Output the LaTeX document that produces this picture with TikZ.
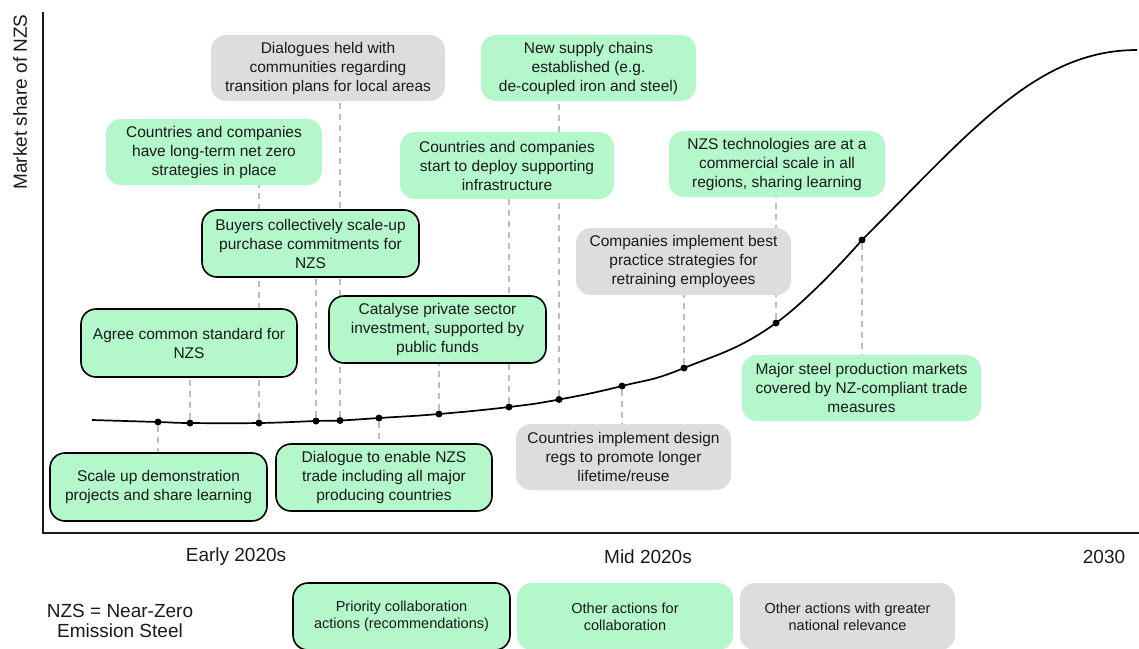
\documentclass[tikz,border=0pt]{standalone}
\usepackage{fontspec}
\setmainfont{Liberation Sans}
\usetikzlibrary{backgrounds}
\definecolor{boxgreen}{RGB}{179,247,203}
\definecolor{boxgray}{RGB}{221,221,221}
\definecolor{dashgray}{RGB}{190,190,190}
\definecolor{txt}{RGB}{26,26,26}
\tikzset{
  box/.style={rounded corners=15pt, align=center, inner sep=0pt, text=txt,
    font=\fontsize{15.5}{19}\selectfont, minimum height=66pt},
  greenbox/.style={box, fill=boxgreen},
  graybox/.style={box, fill=boxgray},
  prio/.style={greenbox, draw=black, line width=1.6pt},
  legendtxt/.style={font=\fontsize{14.5}{17}\selectfont},
  dot/.style={circle, fill=black, inner sep=0pt, minimum size=7pt},
  dashline/.style={draw=dashgray, line width=1.5pt, dash pattern=on 6pt off 5pt},
  axisline/.style={draw=black!90, line width=2pt},
  axislabel/.style={text=txt, font=\fontsize{19}{22}\selectfont, inner sep=0pt},
  curveline/.style={line width=1.7pt, black},
}
\begin{document}
\begin{tikzpicture}[x=1pt,y=-1pt]
\useasboundingbox (0,0) rectangle (1139,648);

% axes
\draw[axisline] (43,12) -- (43,533) -- (1139,533);
\node[axislabel, rotate=90] (ylab) at (20,102) {Market share of NZS};
\node[axislabel] (early) at (236,557) {Early 2020s};
\node[axislabel] (mid) at (648,557) {Mid 2020s};
\node[axislabel] (y2030) at (1104,557) {2030};

% dots
\node[dot] (d1) at (158,422) {};
\node[dot] (d2) at (190,423) {};
\node[dot] (d3) at (259,423) {};
\node[dot] (d4) at (316,421) {};
\node[dot] (d5) at (340,420.5) {};
\node[dot] (d6) at (379,418) {};
\node[dot] (d7) at (439,414) {};
\node[dot] (d8) at (509,407) {};
\node[dot] (d9) at (559,399.5) {};
\node[dot] (d10) at (622,386) {};
\node[dot] (d11) at (684,368) {};
\node[dot] (d12) at (776,323) {};
\node[dot] (d13) at (862,240) {};
\coordinate (cstart) at (92,420);
\coordinate (cend) at (1137,50);

% curve
\draw[curveline] plot[smooth, tension=0.75] coordinates {
 (cstart) (d1) (d2) (d3) (d4) (d5) (d6) (d7) (d8) (d9) (d10) (d11) (d12) (d13)}
 .. controls (972,130) and (1037,50) .. (cend);

% boxes
\node[graybox, minimum width=234pt] (dlg) at (328,68)
  {Dialogues held with\\communities regarding\\transition plans for local areas};
\node[greenbox, minimum width=216pt] (ltnz) at (214,152)
  {Countries and companies\\have long-term net zero\\strategies in place};
\node[prio, minimum width=217pt, minimum height=67pt] (buyers) at (310.5,243.5)
  {Buyers collectively scale-up\\purchase commitments for\\NZS};
\node[greenbox, minimum width=215pt] (supply) at (588.5,68)
  {New supply chains\\established (e.g.\\de-coupled iron and steel)};
\node[greenbox, minimum width=214pt, minimum height=67pt] (infra) at (507,165.5)
  {Countries and companies\\start to deploy supporting\\infrastructure};
\node[greenbox, minimum width=216pt] (tech) at (777,164)
  {NZS technologies are at a\\commercial scale in all\\regions, sharing learning};
\node[graybox, minimum width=215pt, minimum height=67pt] (retrain) at (683.5,261.5)
  {Companies implement best\\practice strategies for\\retraining employees};
\node[prio, minimum width=216pt, minimum height=68pt] (std) at (189,343)
  {Agree common standard for\\NZS};
\node[prio, minimum width=217pt, minimum height=67pt] (catalyse) at (437.5,329.5)
  {Catalyse private sector\\investment, supported by\\public funds};
\node[prio, minimum width=217pt, minimum height=68pt] (demo) at (158.5,487)
  {Scale up demonstration\\projects and share learning};
\node[prio, minimum width=216pt, minimum height=67pt] (trade) at (384,477.5)
  {Dialogue to enable NZS\\trade including all major\\producing countries};
\node[graybox, minimum width=215pt] (regs) at (623.5,457)
  {Countries implement design\\regs to promote longer\\lifetime/reuse};
\node[greenbox, minimum width=239pt] (markets) at (861.5,388)
  {Major steel production markets\\covered by NZ-compliant trade\\measures};

% dashed leader lines (behind)
\begin{scope}[on background layer]
\draw[dashline] (d1) -- (d1 |- demo.north);
\draw[dashline] (d2) -- (d2 |- std.south);
\draw[dashline] (d3) -- (d3 |- ltnz.south);
\draw[dashline] (d4) -- (d4 |- buyers.south);
\draw[dashline] (d5) -- (d5 |- dlg.south);
\draw[dashline] (d6) -- (d6 |- trade.north);
\draw[dashline] (d7) -- (d7 |- catalyse.south);
\draw[dashline] (d8) -- (d8 |- infra.south);
\draw[dashline] (d9) -- (d9 |- supply.south);
\draw[dashline] (d10) -- (d10 |- regs.north);
\draw[dashline] (d11) -- (d11 |- retrain.south);
\draw[dashline] (d12) -- (d12 |- tech.south);
\draw[dashline] (d13) -- (d13 |- markets.north);
\end{scope}

% legend
\node[text=txt, align=center, font=\fontsize{19}{20}\selectfont, inner sep=0pt] (nzs) at (120,621)
  {NZS = Near-Zero\\Emission Steel};
\node[prio, legendtxt, minimum width=217pt, minimum height=67pt] (leg1) at (401.5,616.5)
  {Priority collaboration\\actions (recommendations)};
\node[greenbox, legendtxt, minimum width=216pt, minimum height=67pt] (leg2) at (625,616.5)
  {Other actions for\\collaboration};
\node[graybox, legendtxt, minimum width=215pt, minimum height=67pt] (leg3) at (847.5,616.5)
  {Other actions with greater\\national relevance};
\end{tikzpicture}
\end{document}
